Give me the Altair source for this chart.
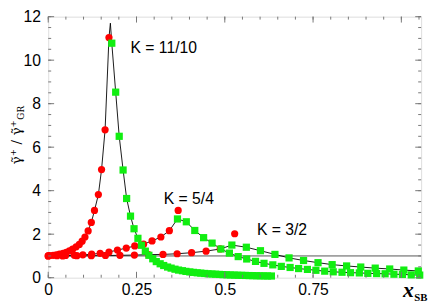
import altair as alt
import pandas as pd

# ---- data ----
# K = 11/10
k1_red_x = [0.004, 0.014, 0.023, 0.032, 0.042, 0.051, 0.060, 0.069, 0.079, 0.088,
            0.096, 0.104, 0.113, 0.122, 0.131, 0.142, 0.151, 0.161, 0.172]
k1_red_y = [1.02, 1.03, 1.05, 1.08, 1.12, 1.17, 1.23, 1.31, 1.42, 1.53,
            1.68, 1.87, 2.15, 2.54, 3.09, 3.82, 4.97, 6.80, 11.04]
k1_green_x = [0.180, 0.191, 0.201, 0.212, 0.222, 0.233, 0.243, 0.254, 0.264, 0.275,
              0.285, 0.296, 0.306, 0.317, 0.327, 0.338, 0.348, 0.359, 0.369, 0.380,
              0.390, 0.401, 0.411, 0.422, 0.432, 0.443, 0.453, 0.464, 0.474, 0.485,
              0.495, 0.506, 0.516, 0.527, 0.537, 0.548, 0.558, 0.569, 0.579, 0.590,
              0.600, 0.611, 0.621, 0.632]
k1_green_y = [10.78, 8.53, 6.50, 4.95, 3.64, 2.83, 2.25, 1.81, 1.49, 1.22,
              1.03, 0.87, 0.74, 0.64, 0.56, 0.49, 0.44, 0.39, 0.35, 0.32,
              0.29, 0.265, 0.245, 0.225, 0.21, 0.195, 0.18, 0.17, 0.16, 0.15,
              0.14, 0.133, 0.126, 0.12, 0.114, 0.108, 0.103, 0.098, 0.094, 0.09,
              0.086, 0.083, 0.08, 0.077]
k1_peak_x = [0.176]
k1_peak_y = [11.70]

# K = 5/4
k2_red_x = [0.000, 0.025, 0.049, 0.074, 0.098, 0.123, 0.147, 0.172, 0.196, 0.221,
            0.245, 0.270, 0.294, 0.319, 0.343, 0.368]
k2_red_y = [1.00, 1.01, 1.02, 1.03, 1.05, 1.08, 1.12, 1.18, 1.27, 1.36,
            1.46, 1.54, 1.69, 1.87, 2.16, 3.09]
k2_green_x = [0.366, 0.391, 0.415, 0.440, 0.464, 0.489, 0.513, 0.538, 0.562, 0.587,
              0.611, 0.636, 0.660, 0.685, 0.709, 0.734, 0.758, 0.783, 0.807, 0.832,
              0.856, 0.881, 0.905, 0.930, 0.954, 0.979, 1.003, 1.028, 1.052]
k2_green_y = [2.70, 2.57, 2.17, 1.84, 1.59, 1.32, 1.13, 0.97, 0.86, 0.75,
              0.66, 0.59, 0.52, 0.47, 0.42, 0.38, 0.34, 0.30, 0.27, 0.25,
              0.23, 0.22, 0.20, 0.19, 0.18, 0.16, 0.15, 0.13, 0.12]

# K = 3/2
k3_red_x = [0.000, 0.041, 0.081, 0.122, 0.162, 0.203, 0.244, 0.284, 0.325, 0.365,
            0.406, 0.447, 0.487, 0.528]
k3_red_y = [1.00, 1.00, 1.01, 1.01, 1.02, 1.03, 1.04, 1.06, 1.07, 1.10,
            1.15, 1.22, 1.32, 2.02]
k3_green_x = [0.520, 0.561, 0.601, 0.642, 0.682, 0.723, 0.764, 0.804, 0.845, 0.885,
              0.926, 0.967, 1.007, 1.048]
k3_green_y = [1.50, 1.40, 1.24, 1.07, 0.91, 0.79, 0.69, 0.60, 0.54, 0.49,
              0.44, 0.40, 0.35, 0.31]

label_texts = ["K = 11/10", "K = 5/4", "K = 3/2"]
label_x = [0.233, 0.327, 0.591]
label_y = [10.55, 3.6, 2.2]

gr_level = [1.0]
x_major = [0, 0.25, 0.5, 0.75, 1.0]
x_label_values = [0, 0.25, 0.5, 0.75]
x_minor = [round(0.05 * i, 2) for i in range(22)]
y_major = [0, 2, 4, 6, 8, 10, 12]
y_minor = [0.5 * i for i in range(25)]

W, H = 380, 266

# ---- tables ----
red = pd.DataFrame({"x": k1_red_x + k2_red_x + k3_red_x,
                    "y": k1_red_y + k2_red_y + k3_red_y})
green = pd.DataFrame({"x": k1_green_x + k2_green_x + k3_green_x,
                      "y": k1_green_y + k2_green_y + k3_green_y})

def curve(name, rx, ry, gx, gy, exclude_last_red=False, px=None, py=None):
    xs_ = list(rx[:-1] if exclude_last_red else rx)
    ys_ = list(ry[:-1] if exclude_last_red else ry)
    if px:
        xs_ += px
        ys_ += py
    xs_ += gx
    ys_ += gy
    return pd.DataFrame({"x": xs_, "y": ys_, "K": name, "seq": range(len(xs_))})

lines = pd.concat([
    curve("11/10", k1_red_x, k1_red_y, k1_green_x, k1_green_y, False, k1_peak_x, k1_peak_y),
    curve("5/4", k2_red_x, k2_red_y, k2_green_x, k2_green_y, True),
    curve("3/2", k3_red_x, k3_red_y, k3_green_x, k3_green_y, True),
])
labels = pd.DataFrame({"x": label_x, "y": label_y, "t": label_texts})

xs = alt.Scale(domain=[0, 1.056], nice=False, zero=False)
ys = alt.Scale(domain=[0, 12], nice=False)
xa = alt.Axis(values=x_label_values, format=".2~f", title=None, domain=False,
              ticks=False, tickSize=0, grid=False, labelFont="Liberation Sans",
              labelFontSize=16, labelColor="black", labelPadding=4, labelFlush=False)
ya = alt.Axis(values=y_major, title=None, domain=False, ticks=False, tickSize=0,
              grid=False, labelFont="Liberation Sans", labelFontSize=16,
              labelColor="black", labelPadding=8)
X = lambda: alt.X("x:Q", scale=xs, axis=xa)
Y = lambda: alt.Y("y:Q", scale=ys, axis=ya)

hline = alt.Chart(pd.DataFrame({"y": gr_level})).mark_rule(
    color="#555", strokeWidth=1).encode(y=Y())

line_layer = alt.Chart(lines).mark_line(color="black", strokeWidth=0.9).encode(
    x=X(), y=Y(), detail="K:N", order="seq:Q")

red_layer = alt.Chart(red).mark_point(shape="circle", filled=True, color="#ff0000",
                                      size=54, opacity=1).encode(x=X(), y=Y())
green_layer = alt.Chart(green).mark_point(shape="square", filled=True, color="#11ee11",
                                          size=54, opacity=1).encode(x=X(), y=Y())

text_layer = alt.Chart(labels).mark_text(align="left", baseline="middle", fontSize=16,
                                         font="Liberation Sans", color="black").encode(
    x=X(), y=Y(), text="t:N")

tick_col = "#777"
def yticks(vals, a, b):
    return alt.Chart(pd.DataFrame({"y": vals})).mark_rule(color=tick_col, strokeWidth=1).encode(
        y=Y(), x=alt.value(a), x2=alt.value(b))
def xticks(vals, a, b):
    return alt.Chart(pd.DataFrame({"x": vals})).mark_rule(color=tick_col, strokeWidth=1).encode(
        x=X(), y=alt.value(a), y2=alt.value(b))

ticks = [
    yticks(y_minor, 0, 3), yticks(y_major, 0, 6),
    yticks(y_minor, W - 3, W), yticks(y_major, W - 6, W),
    xticks(x_minor, H - 3, H), xticks(x_major, H - 6, H),
    xticks(x_minor, 0, 3), xticks(x_major, 0, 6),
]

ytitle = alt.Chart(pd.DataFrame({"a": [0]})).mark_text(
    angle=270, align="center", baseline="middle", font="DejaVu Serif",
    fontSize=14, color="black").encode(
    x=alt.value(-32), y=alt.value(128), text=alt.value("γ̃⁺ / γ̃⁺"))
ytitle_sub = alt.Chart(pd.DataFrame({"a": [0]})).mark_text(
    angle=270, align="center", baseline="middle", font="DejaVu Serif",
    fontSize=9, color="black").encode(
    x=alt.value(-28), y=alt.value(98), text=alt.value("GR"))
xtitle = alt.Chart(pd.DataFrame({"a": [0]})).mark_text(
    align="center", baseline="alphabetic", font="Liberation Serif", fontStyle="italic",
    fontWeight="bold", fontSize=22, color="black").encode(
    x=alt.value(367), y=alt.value(286), text=alt.value("x"))
xtitle_sub = alt.Chart(pd.DataFrame({"a": [0]})).mark_text(
    align="left", baseline="alphabetic", font="Liberation Serif",
    fontWeight="bold", fontSize=11, color="black").encode(
    x=alt.value(373), y=alt.value(290), text=alt.value("SB"))

chart = alt.layer(
    hline, line_layer, red_layer, green_layer, text_layer, *ticks,
    ytitle, ytitle_sub, xtitle, xtitle_sub
).properties(
    width=W, height=H,
    autosize=alt.AutoSizeParams(type="none"),
    padding={"left": 41, "top": 6, "right": 7, "bottom": 25},
).configure_view(stroke="#666", strokeWidth=1).configure(background="white")

chart.save("out.html", embed_options={"renderer": "svg", "actions": False})
